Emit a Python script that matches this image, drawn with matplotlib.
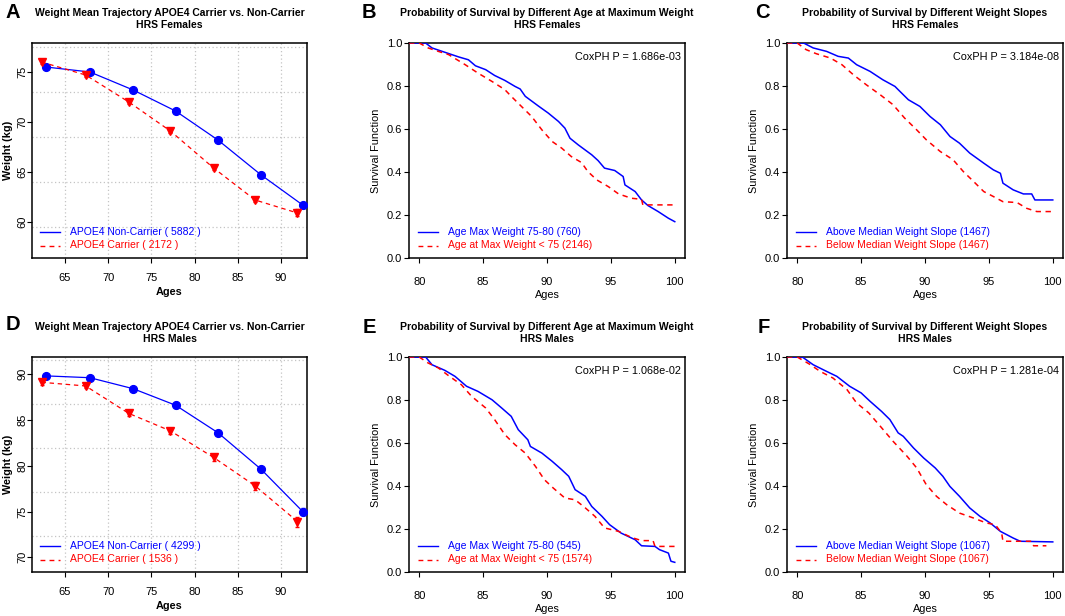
import matplotlib
matplotlib.use('Agg')
import matplotlib.pyplot as plt
from matplotlib.lines import Line2D

plt.rcParams['font.family'] = ['Liberation Sans', 'DejaVu Sans']

# ---------------- data ----------------
traj_ages_noncarrier = [62.8, 67.9, 72.9, 77.8, 82.7, 87.7, 92.5]
traj_ages_carrier = [62.3, 67.4, 72.4, 77.2, 82.2, 87.0, 91.9]

fem_noncarrier_wt = [75.5, 75.0, 73.2, 71.1, 68.2, 64.7, 61.7]
fem_noncarrier_se = [0.10, 0.10, 0.10, 0.10, 0.10, 0.15, 0.20]
fem_carrier_wt = [76.0, 74.7, 72.0, 69.1, 65.4, 62.2, 60.9]
fem_carrier_se = [0.15, 0.15, 0.15, 0.20, 0.20, 0.25, 0.35]

male_noncarrier_wt = [89.8, 89.6, 88.4, 86.6, 83.6, 79.6, 75.0]
male_noncarrier_se = [0.15, 0.15, 0.20, 0.30, 0.20, 0.25, 0.35]
male_carrier_wt = [89.1, 88.7, 85.7, 83.8, 80.9, 77.8, 73.9]
male_carrier_se = [0.25, 0.25, 0.30, 0.30, 0.35, 0.40, 0.55]

# Panel B (females, age at max weight)
b_age_7580 = [79.2, 80.5, 81.0, 82.0, 83.1, 83.85, 84.4, 85.2, 85.9, 86.7, 87.5, 87.9, 88.3, 89.3,
              90.1, 90.9, 91.4, 91.8, 92.45, 93.5, 94.0, 94.5, 95.3, 95.96, 96.1, 96.9, 97.4,
              97.9, 98.7, 99.5, 100.0]
b_surv_7580 = [1.0, 1.0, 0.977, 0.957, 0.935, 0.922, 0.894, 0.876, 0.849, 0.826, 0.798, 0.786,
               0.752, 0.708, 0.674, 0.635, 0.604, 0.557, 0.526, 0.480, 0.453, 0.418, 0.407,
               0.379, 0.340, 0.309, 0.270, 0.244, 0.216, 0.185, 0.169]
b_age_lt75 = [79.2, 80.0, 80.7, 81.5, 82.3, 83.6, 84.6, 85.7, 86.7, 87.2, 88.0, 88.8, 89.6, 90.4,
              91.15, 91.9, 92.7, 93.2, 93.9, 94.8, 95.6, 96.6, 97.4, 97.5, 100.0]
b_surv_lt75 = [1.0, 1.0, 0.977, 0.961, 0.946, 0.899, 0.860, 0.821, 0.783, 0.752, 0.705, 0.658,
               0.596, 0.542, 0.511, 0.472, 0.444, 0.402, 0.363, 0.332, 0.298, 0.278, 0.273,
               0.247, 0.247]

# Panel C (females, weight slope)
c_age_above = [79.2, 80.5, 81.25, 82.3, 83.2, 84.0, 84.65, 85.7, 86.7, 87.65, 87.9, 88.7, 89.6,
               90.4, 91.2, 91.96, 92.7, 93.5, 94.6, 95.35, 95.9, 96.1, 96.9, 97.7, 98.35, 98.6,
               100.0]
c_surv_above = [1.0, 1.0, 0.977, 0.961, 0.938, 0.930, 0.899, 0.868, 0.829, 0.798, 0.783, 0.736,
                0.705, 0.658, 0.620, 0.565, 0.534, 0.488, 0.441, 0.410, 0.394, 0.348, 0.317,
                0.298, 0.298, 0.270, 0.270]
c_age_below = [79.2, 80.0, 80.7, 81.5, 82.6, 83.5, 84.4, 85.4, 86.5, 87.5, 88.4, 89.35, 90.1,
               91.2, 92.2, 93.0, 93.8, 94.6, 95.35, 96.1, 97.2, 97.96, 98.75, 100.0]
c_surv_below = [1.0, 1.0, 0.969, 0.950, 0.930, 0.899, 0.852, 0.806, 0.759, 0.713, 0.651, 0.596,
                0.550, 0.495, 0.457, 0.402, 0.356, 0.309, 0.286, 0.262, 0.258, 0.231, 0.216,
                0.216]

# Panel E (males, age at max weight)
e_age_7580 = [79.2, 80.5, 81.0, 82.0, 82.8, 83.7, 84.6, 85.7, 86.45, 87.2, 87.75, 88.5, 88.7,
              89.6, 90.4, 91.15, 91.7, 92.2, 93.0, 93.5, 94.3, 94.9, 95.8, 96.9, 97.4, 98.45,
              98.8, 99.5, 99.7, 100.0]
e_surv_7580 = [1.0, 1.0, 0.964, 0.938, 0.910, 0.864, 0.840, 0.801, 0.763, 0.724, 0.662, 0.615,
               0.584, 0.553, 0.515, 0.476, 0.445, 0.383, 0.352, 0.305, 0.259, 0.220, 0.181,
               0.150, 0.122, 0.119, 0.104, 0.088, 0.050, 0.045]
e_age_lt75 = [79.2, 80.0, 80.7, 81.5, 82.3, 83.3, 84.1, 85.2, 85.9, 86.7, 87.5, 88.3, 89.1, 89.8,
              90.5, 91.4, 92.2, 93.0, 93.75, 94.5, 95.6, 96.6, 97.4, 98.3, 98.45, 100.0]
e_surv_lt75 = [1.0, 1.0, 0.972, 0.949, 0.913, 0.871, 0.817, 0.763, 0.709, 0.639, 0.592, 0.553,
               0.491, 0.429, 0.390, 0.344, 0.336, 0.298, 0.259, 0.205, 0.189, 0.161, 0.146,
               0.146, 0.119, 0.119]

# Panel F (males, weight slope)
f_age_above = [79.2, 80.4, 81.25, 82.3, 83.1, 84.1, 85.0, 85.7, 86.6, 87.25, 87.9, 88.3, 89.1,
               89.9, 90.8, 91.4, 91.95, 92.7, 93.5, 94.3, 95.1, 95.9, 96.9, 97.45, 100.0]
f_surv_above = [1.0, 1.0, 0.964, 0.933, 0.910, 0.864, 0.833, 0.794, 0.747, 0.709, 0.647, 0.631,
                0.577, 0.530, 0.484, 0.445, 0.398, 0.352, 0.298, 0.259, 0.228, 0.189, 0.158,
                0.143, 0.140]
f_age_below = [79.2, 80.0, 80.9, 81.8, 82.8, 83.9, 84.65, 85.6, 86.5, 87.5, 88.6, 89.35, 90.1,
               90.9, 91.7, 92.7, 93.8, 94.8, 95.5, 96.0, 96.1, 97.2, 98.35, 98.5, 99.5]
f_surv_below = [1.0, 1.0, 0.969, 0.933, 0.902, 0.848, 0.786, 0.740, 0.678, 0.608, 0.538, 0.484,
                0.406, 0.352, 0.313, 0.274, 0.251, 0.228, 0.220, 0.181, 0.143, 0.143, 0.143,
                0.122, 0.122]

surv_ticks_x = [80, 85, 90, 95, 100]
surv_ticks_y = [0.0, 0.2, 0.4, 0.6, 0.8, 1.0]
traj_ticks_x = [65, 70, 75, 80, 85, 90]

# ---------------- layout ----------------
W, H = 1065, 616
fig = plt.figure(figsize=(W / 100, H / 100), dpi=100)
BLUE = '#0000FF'
RED = '#FF0000'
FS = 7.5


def fx(x):
    return x / W


def fy(y):
    return 1 - y / H


def ax_px(l, t, r, b):
    return fig.add_axes([l / W, 1 - b / H, (r - l) / W, (b - t) / H])


def style_box(ax):
    for s in ax.spines.values():
        s.set_linewidth(1.1)
        s.set_color('black')


def legend_manual(x0, y1, labels):
    ys = [y1, y1 + 13.5]
    styles = [dict(color=BLUE, lw=1.0, ls='-'), dict(color=RED, lw=1.0, ls=(0, (3.5, 3)))]
    cols = [BLUE, RED]
    for yy, lab, st, c in zip(ys, labels, styles, cols):
        fig.add_artist(Line2D([fx(x0), fx(x0 + 20)], [fy(yy), fy(yy)], **st))
        fig.text(fx(x0 + 30), fy(yy), lab, color=c, fontsize=FS, va='center', ha='left')


def traj_panel(box, title2, wt_nc, se_nc, wt_c, se_c, ylim, yticks, hgrid, labels, top):
    ax = ax_px(*box)
    ax.set_xlim(61.2, 93.0)
    ax.set_ylim(*ylim)
    for g in hgrid:
        ax.axhline(g, color='#c4c4c4', lw=0.9, ls=(0, (1, 2)), zorder=0)
    for g in traj_ticks_x:
        ax.axvline(g, color='#c4c4c4', lw=0.9, ls=(0, (1, 2)), zorder=0)
    ax.errorbar(traj_ages_noncarrier, wt_nc, yerr=se_nc, color=BLUE, lw=0.9, marker='o',
                ms=5.6, capsize=1.5, elinewidth=0.9, zorder=3)
    ax.errorbar(traj_ages_carrier, wt_c, yerr=se_c, color=RED, lw=0.9, ls=(0, (3.5, 3)),
                marker='v', ms=6, capsize=1.5, elinewidth=0.9, zorder=3)
    ax.set_xticks(traj_ticks_x)
    ax.set_yticks(yticks)
    ax.tick_params(axis='both', direction='out', length=3.5, width=0.8, labelsize=FS + 0.5)
    ax.tick_params(axis='x', pad=7)
    ax.tick_params(axis='y', pad=0)
    for t in ax.get_yticklabels():
        t.set_rotation(90)
        t.set_va('center')
    ax.set_xlabel('Ages', fontsize=FS + 0.3, fontweight='bold', labelpad=3)
    ax.set_ylabel('Weight (kg)', fontsize=FS + 0.3, fontweight='bold')
    ax.yaxis.set_label_coords((13 - box[0]) / (box[2] - box[0]), 0.5)
    style_box(ax)
    cx = (box[0] + box[2]) / 2
    fig.text(fx(cx), fy(top + 13), 'Weight Mean Trajectory APOE4 Carrier vs. Non-Carrier',
             ha='center', va='center', fontsize=FS, fontweight='bold')
    fig.text(fx(cx), fy(top + 25.5), title2, ha='center', va='center', fontsize=FS,
             fontweight='bold')
    legend_manual(40, top + 232, labels)
    return ax


def surv_panel(box, title1, title2, pval, a1, s1, a2, s2, labels, top):
    ax = ax_px(*box)
    ax.set_xlim(79.2, 100.8)
    ax.set_ylim(0, 1)
    ax.plot(a1, s1, color=BLUE, lw=1.1, zorder=3)
    ax.plot(a2, s2, color=RED, lw=1.1, ls=(0, (3.5, 3)), zorder=3)
    ax.set_xticks(surv_ticks_x)
    ax.set_yticks(surv_ticks_y)
    ax.set_yticklabels(['%.1f' % v for v in surv_ticks_y])
    ax.tick_params(axis='both', direction='out', length=3.5, width=0.8, labelsize=FS + 0.5)
    ax.tick_params(axis='x', pad=10)
    ax.tick_params(axis='y', pad=1.5)
    ax.set_xlabel('Ages', fontsize=FS + 0.3, labelpad=2)
    ax.set_ylabel('Survival Function', fontsize=FS + 0.3, labelpad=4)
    style_box(ax)
    cx = (box[0] + box[2]) / 2
    fig.text(fx(cx), fy(top + 13), title1, ha='center', va='center', fontsize=FS,
             fontweight='bold')
    fig.text(fx(cx), fy(top + 25.5), title2, ha='center', va='center', fontsize=FS,
             fontweight='bold')
    fig.text(fx(box[2] - 4), fy(top + 57), pval, ha='right', va='center', fontsize=FS + 0.3)
    legend_manual(box[0] + 9, top + 232, labels)
    return ax


# Row 1
traj_panel((32, 43, 307, 258), 'HRS Females', fem_noncarrier_wt, fem_noncarrier_se,
           fem_carrier_wt, fem_carrier_se, (56.4, 77.9), [60, 65, 70, 75],
           [59.5, 64.0, 68.5, 73.0, 77.5],
           ['APOE4 Non-Carrier ( 5882 )', 'APOE4 Carrier ( 2172 )'], 0)
surv_panel((409, 43, 685, 258), 'Probability of Survival by Different Age at Maximum Weight',
           'HRS Females', 'CoxPH P = 1.686e-03', b_age_7580, b_surv_7580, b_age_lt75, b_surv_lt75,
           ['Age Max Weight 75-80 (760)', 'Age at Max Weight < 75 (2146)'], 0)
surv_panel((787, 43, 1063, 258), 'Probability of Survival by Different Weight Slopes',
           'HRS Females', 'CoxPH P = 3.184e-08', c_age_above, c_surv_above, c_age_below,
           c_surv_below,
           ['Above Median Weight Slope (1467)', 'Below Median Weight Slope (1467)'], 0)

# Row 2
traj_panel((32, 357, 307, 572), 'HRS Males', male_noncarrier_wt, male_noncarrier_se,
           male_carrier_wt, male_carrier_se, (68.4, 91.86), [70, 75, 80, 85, 90],
           [72.3, 77.1, 81.9, 86.7, 91.5],
           ['APOE4 Non-Carrier ( 4299 )', 'APOE4 Carrier ( 1536 )'], 314)
surv_panel((409, 357, 685, 572), 'Probability of Survival by Different Age at Maximum Weight',
           'HRS Males', 'CoxPH P = 1.068e-02', e_age_7580, e_surv_7580, e_age_lt75, e_surv_lt75,
           ['Age Max Weight 75-80 (545)', 'Age at Max Weight < 75 (1574)'], 314)
surv_panel((787, 357, 1063, 572), 'Probability of Survival by Different Weight Slopes',
           'HRS Males', 'CoxPH P = 1.281e-04', f_age_above, f_surv_above, f_age_below,
           f_surv_below,
           ['Above Median Weight Slope (1067)', 'Below Median Weight Slope (1067)'], 314)

# Panel letters
for letter, (x, y) in zip('ABCDEF', [(12.5, 12), (369, 12), (762.5, 12),
                                     (12.5, 325), (369, 327), (763.5, 327)]):
    fig.text(fx(x), fy(y), letter, ha='center', va='center', fontsize=14.5, fontweight='bold')

fig.savefig('out.png', dpi=100)
